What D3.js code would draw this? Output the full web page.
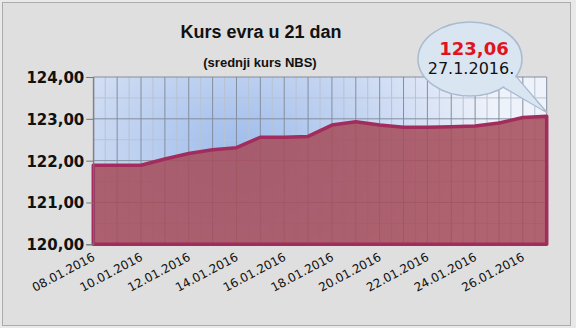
<!DOCTYPE html>
<html>
<head>
<meta charset="utf-8">
<script src="https://cdn.jsdelivr.net/npm/d3@7"></script>
<style>
  html, body { margin: 0; padding: 0; background: #e9e9e9; }
  svg { display: block; }
</style>
</head>
<body>
<svg id="chart" width="576" height="328"></svg>
<script>
// Daily middle exchange rate of the euro (NBS), 08.01.2016 – 27.01.2016
const dates = [
  "08.01.2016", "09.01.2016", "10.01.2016", "11.01.2016", "12.01.2016",
  "13.01.2016", "14.01.2016", "15.01.2016", "16.01.2016", "17.01.2016",
  "18.01.2016", "19.01.2016", "20.01.2016", "21.01.2016", "22.01.2016",
  "23.01.2016", "24.01.2016", "25.01.2016", "26.01.2016", "27.01.2016"
];
const rates = [
  121.89, 121.89, 121.89, 122.04, 122.17,
  122.26, 122.31, 122.56, 122.56, 122.58,
  122.85, 122.93, 122.85, 122.80, 122.80,
  122.81, 122.83, 122.90, 123.03, 123.06
];
const yTicks = [120, 121, 122, 123, 124];
const titleText = "Kurs evra u 21 dan";
const subtitleText = "(srednji kurs NBS)";
const calloutDate = "27.1.2016.";

const fmt = v => d3.format(".2f")(v).replace(".", ",");

const svg = d3.select("#chart");
const plot = { left: 93.3, right: 546.7, top: 77, bottom: 244.3 };

const x = d3.scalePoint().domain(dates).range([plot.left, plot.right]);
const y = d3.scaleLinear().domain([120, 124]).range([plot.bottom, plot.top]);
const step = x.step();

const defs = svg.append("defs");
const grad = defs.append("radialGradient")
  .attr("id", "plotBg")
  .attr("gradientUnits", "userSpaceOnUse")
  .attr("cx", 240).attr("cy", 150).attr("r", 260)
  .attr("gradientTransform", "translate(240,150) scale(1,0.75) translate(-240,-150)");
grad.append("stop").attr("offset", "0").attr("stop-color", "#9ebcec");
grad.append("stop").attr("offset", "0.55").attr("stop-color", "#c9d8f2");
grad.append("stop").attr("offset", "1").attr("stop-color", "#eef2fa");

// outer frame
svg.append("rect")
  .attr("x", 2.5).attr("y", 2.5).attr("width", 568).attr("height", 323)
  .attr("fill", "#dfdfdf").attr("stroke", "#ababab");

// titles
svg.append("text")
  .attr("x", 261).attr("y", 38)
  .attr("text-anchor", "middle")
  .attr("font-family", "'Liberation Sans', Arial, sans-serif")
  .attr("font-weight", "bold").attr("font-size", 18)
  .attr("fill", "#111")
  .text(titleText);
svg.append("text")
  .attr("x", 260).attr("y", 67)
  .attr("text-anchor", "middle")
  .attr("font-family", "'Liberation Sans', Arial, sans-serif")
  .attr("font-weight", "bold").attr("font-size", 13)
  .attr("fill", "#111")
  .text(subtitleText);

// plot background
svg.append("rect")
  .attr("x", plot.left).attr("y", plot.top)
  .attr("width", plot.right - plot.left).attr("height", plot.bottom - plot.top)
  .attr("fill", "url(#plotBg)");

// grid: minor lines at half steps, major at each day / each unit
const grid = svg.append("g");
dates.forEach((d, i) => {
  if (i < dates.length - 1) {
    grid.append("line")
      .attr("x1", x(d) + step / 2).attr("x2", x(d) + step / 2)
      .attr("y1", plot.top).attr("y2", plot.bottom)
      .attr("stroke", "#b8c2d2").attr("stroke-width", 1);
  }
});
yTicks.slice(0, -1).forEach(t => {
  grid.append("line")
    .attr("x1", plot.left).attr("x2", plot.right)
    .attr("y1", y(t + 0.5)).attr("y2", y(t + 0.5))
    .attr("stroke", "#b8c2d2").attr("stroke-width", 1);
});
dates.forEach(d => {
  grid.append("line")
    .attr("x1", x(d)).attr("x2", x(d))
    .attr("y1", plot.top).attr("y2", plot.bottom)
    .attr("stroke", "#848e9e").attr("stroke-width", 1);
});
yTicks.forEach(t => {
  grid.append("line")
    .attr("x1", plot.left).attr("x2", plot.right)
    .attr("y1", y(t)).attr("y2", y(t))
    .attr("stroke", "#848e9e").attr("stroke-width", 1);
});

// area with outline
const area = d3.area()
  .x((d, i) => x(dates[i]))
  .y0(y(120))
  .y1(d => y(d));
svg.append("path")
  .datum(rates)
  .attr("d", area)
  .attr("fill", "#a64f5c").attr("fill-opacity", 0.88)
  .attr("stroke", "#a22d5c").attr("stroke-width", 3.5)
  .attr("stroke-linejoin", "round");

// y axis
const yAxis = d3.axisLeft(y).tickValues(yTicks).tickSize(7).tickFormat(fmt);
const gy = svg.append("g").attr("transform", `translate(${plot.left},0)`).call(yAxis);
gy.select(".domain").attr("stroke", "#777");
gy.selectAll(".tick line").attr("stroke", "#777");
gy.selectAll(".tick text")
  .attr("x", -9).attr("dy", "0.36em")
  .attr("font-family", "'DejaVu Sans', sans-serif")
  .attr("font-weight", "bold").attr("font-size", 15)
  .attr("fill", "#111");

// x axis labels every second day
const xAxis = d3.axisBottom(x)
  .tickValues(dates.filter((d, i) => i % 2 === 0 && i < dates.length - 1))
  .tickSize(0);
const gx = svg.append("g").attr("transform", `translate(0,${plot.bottom})`).call(xAxis);
gx.select(".domain").remove();
gx.selectAll(".tick text")
  .attr("text-anchor", "end")
  .attr("transform", "translate(-2,8) rotate(-28)")
  .attr("x", 0).attr("y", 0).attr("dy", "0.7em")
  .attr("font-family", "'DejaVu Sans', sans-serif")
  .attr("font-size", 12)
  .attr("fill", "#111");

// callout bubble for the latest value
const last = rates.length - 1;
const tipX = x(dates[last]), tipY = y(rates[last]) - 4;
const cx = 470, cy = 59, rx = 52, ry = 37;
const a1 = 28 * Math.PI / 180, a2 = 50 * Math.PI / 180;
const p1 = [cx + rx * Math.cos(a1), cy + ry * Math.sin(a1)];
const p2 = [cx + rx * Math.cos(a2), cy + ry * Math.sin(a2)];
const bubble = svg.append("g");
bubble.append("path")
  .attr("d", `M${p1[0]},${p1[1]} L${tipX},${tipY} L${p2[0]},${p2[1]} Z`)
  .attr("fill", "#dae5f2").attr("stroke", "#a9bbd0").attr("stroke-width", 1.5);
bubble.append("ellipse")
  .attr("cx", cx).attr("cy", cy).attr("rx", rx).attr("ry", ry)
  .attr("fill", "#dae5f2").attr("stroke", "#a9bbd0").attr("stroke-width", 1.5);
bubble.append("path")
  .attr("d", `M${p1[0] - 1.5},${p1[1] - 0.5} L${tipX - 3},${tipY - 2} L${p2[0] - 0.5},${p2[1] - 1.5} Z`)
  .attr("fill", "#dae5f2");
bubble.append("text")
  .attr("x", 474).attr("y", 55)
  .attr("text-anchor", "middle")
  .attr("font-family", "'DejaVu Sans', sans-serif")
  .attr("font-weight", "bold").attr("font-size", 18)
  .attr("fill", "#e0141c")
  .text(fmt(rates[last]));
bubble.append("text")
  .attr("x", 471).attr("y", 74)
  .attr("text-anchor", "middle")
  .attr("font-family", "'DejaVu Sans', sans-serif")
  .attr("font-size", 16)
  .attr("fill", "#111")
  .text(calloutDate);
</script>
</body>
</html>
